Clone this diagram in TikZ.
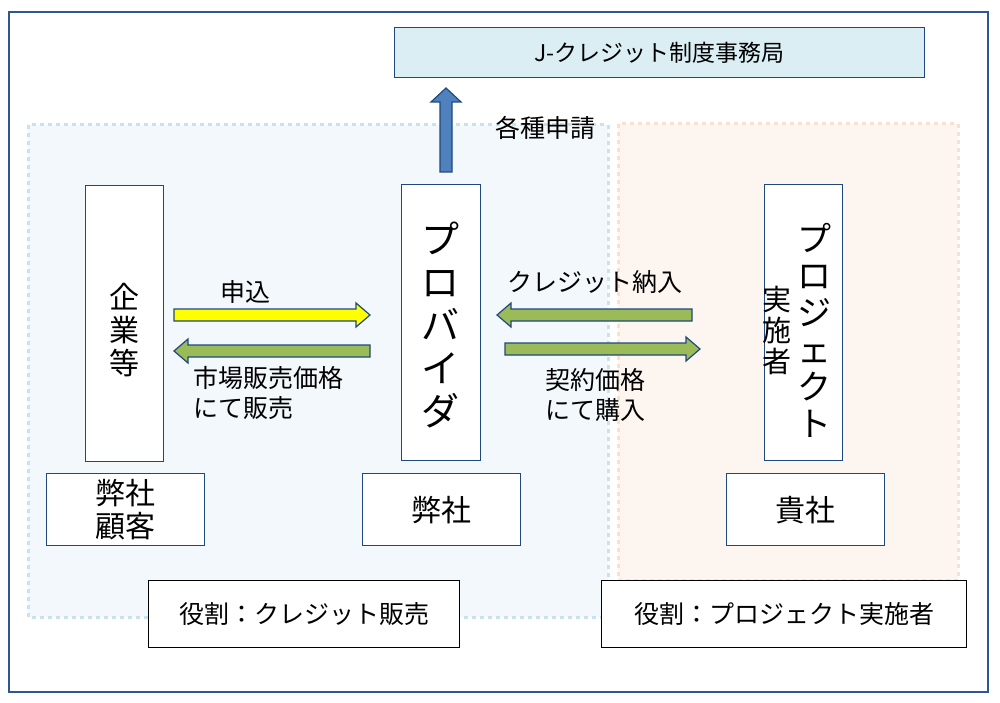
\documentclass[tikz,border=0pt]{standalone}
\usepackage{fontspec}
\setmainfont{Noto Sans CJK JP}
\definecolor{fb}{RGB}{47,85,151}
\definecolor{bb}{RGB}{31,73,125}
\begin{document}
\begin{tikzpicture}[x=1pt,y=-1pt,
  frame/.style={draw=fb,line width=1.6pt},
  box/.style={draw=bb,line width=1.3pt,fill=white},
  tx/.style={font=\fontsize{30}{34}\selectfont,inner sep=0pt},
  lb/.style={font=\fontsize{25}{30}\selectfont,inner sep=0pt,align=left},
  barrow/.style={draw=bb,line width=1.2pt}]
\useasboundingbox (0,0) rectangle (1000,703);
\draw[frame] (9,12) rectangle (988,692);
% regions
\draw[fill={rgb,255:red,242;green,248;blue,251},draw={rgb,255:red,200;green,226;blue,238},line width=3pt,dash pattern=on 4pt off 4pt] (28,125) rectangle (608,617);
\draw[fill={rgb,255:red,253;green,246;blue,240},draw={rgb,255:red,251;green,224;blue,204},line width=3pt,dash pattern=on 4pt off 4pt] (618,124) rectangle (958,580);
% top box
\node[box,fill={rgb,255:red,218;green,238;blue,243},minimum width=530pt,minimum height=50pt,anchor=north west,tx,font=\fontsize{23}{26}\selectfont] (jc) at (394,27) {J-クレジット制度事務局};
% up arrow
\draw[barrow,fill={rgb,255:red,79;green,129;blue,189}] (440,172) -- (440,102) -- (431,102) -- (446,88) -- (461,102) -- (452,102) -- (452,172) -- cycle;
\node[lb] (req) at (545,128) {各種申請};
% vertical boxes
\node[box,minimum width=78pt,minimum height=276pt,anchor=north west] (kig) at (85,185) {};
\node[tx,align=center,font=\fontsize{30}{33}\selectfont] at (124,330) {企\\業\\等};
\node[box,minimum width=79pt,minimum height=276pt,anchor=north west] (prv) at (401,184) {};
\node[tx,align=center,font=\fontsize{38}{43}\selectfont] at (440,325) {プ\\ロ\\バ\\イ\\ダ};
\node[box,minimum width=78pt,minimum height=276pt,anchor=north west] (pj) at (764,184) {};
\node[tx,align=center,font=\fontsize{34}{37}\selectfont] at (814,330) {プ\\ロ\\ジ\\ェ\\ク\\ト};
\node[tx,align=center,font=\fontsize{29}{31}\selectfont] at (777,330) {実\\施\\者};
% label boxes
\node[box,minimum width=158pt,minimum height=72pt,anchor=north west] (c1) at (46,473) {};
\node[tx,align=center,font=\fontsize{30}{33}\selectfont] at (c1) {弊社\\顧客};
\node[box,minimum width=158pt,minimum height=72pt,anchor=north west,tx] (c2) at (362,473) {弊社};
\node[box,minimum width=158pt,minimum height=72pt,anchor=north west,tx] (c3) at (726,473) {貴社};
% role boxes
\node[draw=black,line width=1.3pt,fill=white,minimum width=311pt,minimum height=67pt,anchor=north west,lb] (r1) at (148,580) {役割：クレジット販売};
\node[draw=black,line width=1.3pt,fill=white,minimum width=365pt,minimum height=67pt,anchor=north west,lb] (r2) at (601,580) {役割：プロジェクト実施者};
% horizontal arrows
\draw[barrow,fill={rgb,255:red,255;green,255;blue,0}] (174,309) -- (356,309) -- (356,303) -- (370,315) -- (356,327) -- (356,321) -- (174,321) -- cycle;
\draw[barrow,fill={rgb,255:red,155;green,187;blue,89}] (370,345) -- (188,345) -- (188,339) -- (174,351) -- (188,363) -- (188,357) -- (370,357) -- cycle;
\draw[barrow,fill={rgb,255:red,155;green,187;blue,89}] (692,309) -- (511,309) -- (511,303) -- (497,315) -- (511,327) -- (511,321) -- (692,321) -- cycle;
\draw[barrow,fill={rgb,255:red,155;green,187;blue,89}] (505,343) -- (686,343) -- (686,337) -- (700,349) -- (686,361) -- (686,355) -- (505,355) -- cycle;
% labels
\node[lb] (l1) at (245,292) {申込};
\node[lb,anchor=north west,font=\fontsize{25}{30}\selectfont] (l2) at (193,366) {市場販売価格\\にて販売};
\node[lb] (l3) at (595,282) {クレジット納入};
\node[lb,anchor=north west] (l4) at (545,368) {契約価格\\にて購入};
\end{tikzpicture}
\end{document}
